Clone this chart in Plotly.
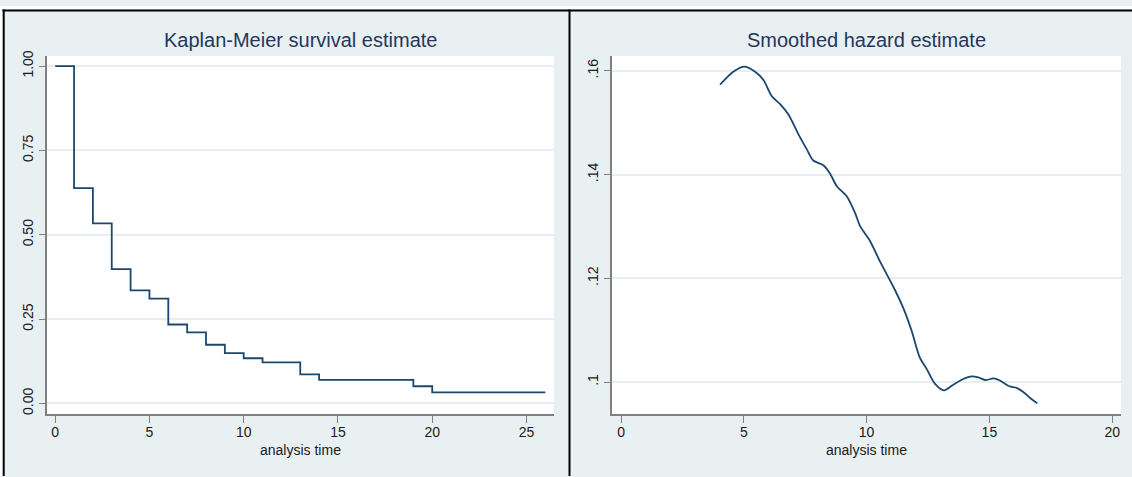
import plotly.graph_objects as go

# Kaplan-Meier survival estimate (step function)
km_time = [0, 1, 2, 3, 4, 5, 6, 7, 8, 9, 10, 11, 13, 14, 19, 20, 26]
km_surv = [1.0, 0.638, 0.534, 0.398, 0.335, 0.311, 0.234, 0.211, 0.174,
           0.149, 0.134, 0.122, 0.086, 0.070, 0.051, 0.033, 0.033]

# Smoothed hazard estimate
hz_time = [4.03, 4.57, 5.02, 5.46, 5.80, 6.14, 6.47, 6.81, 7.22, 7.56, 7.83,
           8.24, 8.51, 8.78, 9.19, 9.53, 9.73, 10.14, 10.55, 11.16, 11.50,
           11.84, 12.17, 12.45, 12.78, 13.15, 13.53, 13.94, 14.28, 14.55,
           14.86, 15.16, 15.43, 15.81, 16.11, 16.38, 16.65, 16.95]
hz_rate = [0.1573, 0.1598, 0.1608, 0.1598, 0.1582, 0.1551, 0.1536, 0.1516,
           0.1478, 0.1449, 0.1427, 0.1418, 0.1402, 0.1378, 0.1358, 0.1326,
           0.1301, 0.1272, 0.1232, 0.1177, 0.1142, 0.1098, 0.1047, 0.1025,
           0.0997, 0.0984, 0.0995, 0.1006, 0.1011, 0.1009, 0.1004, 0.1007,
           0.1003, 0.0992, 0.0989, 0.0981, 0.0970, 0.0959]

km_yticks = [0, 0.25, 0.5, 0.75, 1.0]
km_yticktext = ["0.00", "0.25", "0.50", "0.75", "1.00"]
km_xticks = [0, 5, 10, 15, 20, 25]
hz_yticks = [0.10, 0.12, 0.14, 0.16]
hz_yticktext = [".1", ".12", ".14", ".16"]
hz_xticks = [0, 5, 10, 15, 20]

W, H = 1132, 477
NAVY = "#1A476F"
PANEL = "#E9F0F2"
GRID = "#E6EEF0"
AXIS = "#808080"
FONT = "Liberation Sans, Arial, sans-serif"


def px(x):
    return x / W


def py(y):
    return 1 - y / H


fig = go.Figure()
fig.add_trace(go.Scatter(x=km_time, y=km_surv, mode="lines", line_shape="hv",
                         line=dict(color=NAVY, width=1.8),
                         xaxis="x", yaxis="y", showlegend=False))
fig.add_trace(go.Scatter(x=hz_time, y=hz_rate, mode="lines", line_shape="spline",
                         line=dict(color=NAVY, width=1.8, smoothing=0.8),
                         xaxis="x2", yaxis="y2", showlegend=False))

common_x = dict(showgrid=False, zeroline=False, showline=True, linecolor=AXIS,
                linewidth=1.5, ticks="outside", ticklen=7, tickwidth=1,
                tickcolor=AXIS, ticklabelstandoff=-2,
                tickfont=dict(family=FONT, size=14, color="#1a1a1a"))
common_y = dict(showgrid=True, gridcolor=GRID, gridwidth=1.5, zeroline=False,
                showline=True, linecolor=AXIS, linewidth=1.5, ticks="outside",
                ticklen=6, tickwidth=1, tickcolor=AXIS, tickangle=-90,
                tickfont=dict(family=FONT, size=14, color="#1a1a1a"))

y_dom = [py(414), py(50.7)]

fig.update_layout(
    width=W, height=H,
    margin=dict(l=0, r=0, t=0, b=0),
    paper_bgcolor=PANEL,
    plot_bgcolor="white",
    xaxis=dict(domain=[px(46.7), px(554)], range=[-0.45, 26.46],
               tickvals=km_xticks, anchor="y", **common_x),
    yaxis=dict(domain=y_dom, range=[-0.031, 1.030], tickvals=km_yticks,
               ticktext=km_yticktext, anchor="x", **common_y),
    xaxis2=dict(domain=[px(611.7), px(1121)], range=[-0.38, 20.36],
                tickvals=hz_xticks, anchor="y2", **common_x),
    yaxis2=dict(domain=y_dom, range=[0.09387, 0.16285], tickvals=hz_yticks,
                ticktext=hz_yticktext, anchor="x2", **common_y),
)

title_font = dict(family=FONT, size=20, color="#26365A")
label_font = dict(family=FONT, size=14, color="#1a1a1a")
fig.add_annotation(text="Kaplan-Meier survival estimate", x=px(300.3), y=py(35),
                   xref="paper", yref="paper", showarrow=False,
                   xanchor="center", yanchor="middle", font=title_font)
fig.add_annotation(text="Smoothed hazard estimate", x=px(866.3), y=py(35),
                   xref="paper", yref="paper", showarrow=False,
                   xanchor="center", yanchor="middle", font=title_font)
fig.add_annotation(text="analysis time", x=px(300), y=py(450.5),
                   xref="paper", yref="paper", showarrow=False,
                   xanchor="center", yanchor="middle", font=label_font)
fig.add_annotation(text="analysis time", x=px(866), y=py(450.5),
                   xref="paper", yref="paper", showarrow=False,
                   xanchor="center", yanchor="middle", font=label_font)

# outer white margin and black frame lines
shapes = [
    dict(type="rect", xref="paper", yref="paper", x0=0, x1=1, y0=py(3), y1=1,
         fillcolor="white", line_width=0),
    dict(type="rect", xref="paper", yref="paper", x0=0, x1=px(2.5), y0=0, y1=1,
         fillcolor="white", line_width=0),
    dict(type="line", xref="paper", yref="paper", x0=px(2.5), x1=1,
         y0=py(4.5), y1=py(4.5), line=dict(color="black", width=2)),
    dict(type="line", xref="paper", yref="paper", x0=px(3.7), x1=px(3.7),
         y0=0, y1=py(3.5), line=dict(color="black", width=2)),
    dict(type="line", xref="paper", yref="paper", x0=px(569.5), x1=px(569.5),
         y0=0, y1=py(3.5), line=dict(color="black", width=2)),
]
fig.update_layout(shapes=shapes)

fig.write_html("out.html")
